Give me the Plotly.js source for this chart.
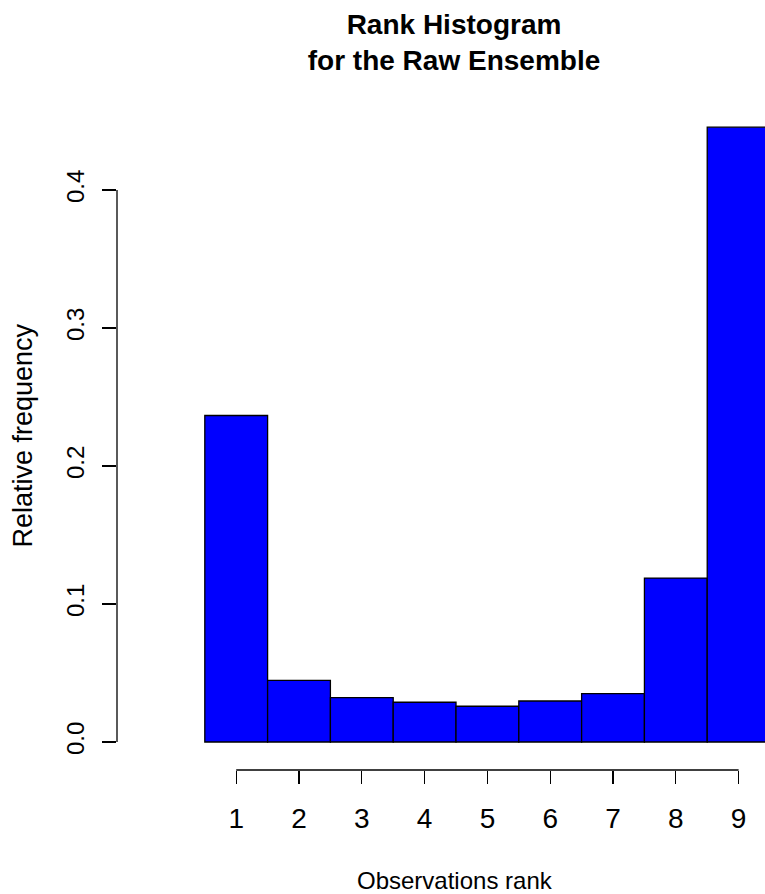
<!DOCTYPE html>
<html>
<head>
<meta charset="utf-8">
<script src="https://cdn.plot.ly/plotly-3.0.1.min.js"></script>
<style>
  html, body { margin: 0; padding: 0; background: #ffffff; }
  #chart { width: 765px; height: 894px; }
</style>
</head>
<body>
<div id="chart"></div>
<script>
// Rank histogram of the raw ensemble: relative frequency of the observation's rank
const ranks = [1, 2, 3, 4, 5, 6, 7, 8, 9];
const relFreq = [0.2366, 0.0447, 0.0321, 0.0288, 0.0259, 0.0297, 0.0350, 0.1188, 0.4455];

const yTickVals = [0, 0.1, 0.2, 0.3, 0.4];
const yTickText = ['0.0', '0.1', '0.2', '0.3', '0.4'];
const xTickText = ranks.map(String);

const titleText = 'Rank Histogram<br>for the Raw Ensemble';
const xLabel = 'Observations rank';
const yLabel = 'Relative frequency';

const FONT = 'Liberation Sans, Arial, Helvetica, sans-serif';

const trace = {
  type: 'bar',
  x: ranks,
  y: relFreq,
  width: 1,
  marker: { color: '#0000ff', line: { color: '#000000', width: 1.3 } },
  hoverinfo: 'x+y'
};

const layout = {
  width: 765,
  height: 894,
  margin: { l: 117, r: 0, t: 100, b: 124, pad: 0 },
  paper_bgcolor: '#ffffff',
  plot_bgcolor: '#ffffff',
  showlegend: false,
  bargap: 0,
  title: {
    text: '<b>' + titleText + '</b>',
    font: { family: FONT, size: 28, color: '#000000' },
    xref: 'container', x: 454 / 765, xanchor: 'center',
    yref: 'container', y: 1 - 34 / 894, yanchor: 'top'
  },
  xaxis: {
    range: [-0.898, 9.42],
    tickmode: 'array',
    tickvals: ranks,
    ticktext: xTickText,
    ticks: 'outside',
    ticklen: 13,
    tickwidth: 1.3,
    tickcolor: '#000000',
    ticklabelstandoff: 10,
    showline: false,
    showgrid: false,
    zeroline: false,
    tickfont: { family: FONT, size: 28, color: '#000000' },
    fixedrange: true
  },
  yaxis: {
    range: [-0.02029, 0.46522],
    tickmode: 'array',
    tickvals: yTickVals,
    ticktext: yTickText,
    tickangle: -90,
    ticks: 'outside',
    ticklen: 14,
    tickwidth: 1.3,
    tickcolor: '#000000',
    ticklabelstandoff: 8,
    showline: false,
    showgrid: false,
    zeroline: false,
    tickfont: { family: FONT, size: 24, color: '#000000' },
    fixedrange: true
  },
  shapes: [
    // x axis line spanning the first to the last rank
    { type: 'line', xref: 'x', yref: 'paper',
      x0: ranks[0], x1: ranks[ranks.length - 1], y0: 0, y1: 0,
      line: { color: '#000000', width: 1.3 } },
    // y axis line spanning the first to the last tick
    { type: 'line', xref: 'paper', yref: 'y',
      x0: 0, x1: 0, y0: yTickVals[0], y1: yTickVals[yTickVals.length - 1],
      line: { color: '#000000', width: 1.3 } }
  ],
  annotations: [
    { text: xLabel, xref: 'paper', yref: 'paper',
      x: (455 - 117) / 648, y: (770 - 880) / 670,
      xanchor: 'center', yanchor: 'middle', showarrow: false,
      font: { family: FONT, size: 24, color: '#000000' } },
    { text: yLabel, xref: 'paper', yref: 'paper', textangle: -90,
      x: (23 - 117) / 648, y: (770 - 435.5) / 670,
      xanchor: 'center', yanchor: 'middle', showarrow: false,
      font: { family: FONT, size: 27, color: '#000000' } }
  ]
};

Plotly.newPlot('chart', [trace], layout, { displayModeBar: false, staticPlot: true });
</script>
</body>
</html>
